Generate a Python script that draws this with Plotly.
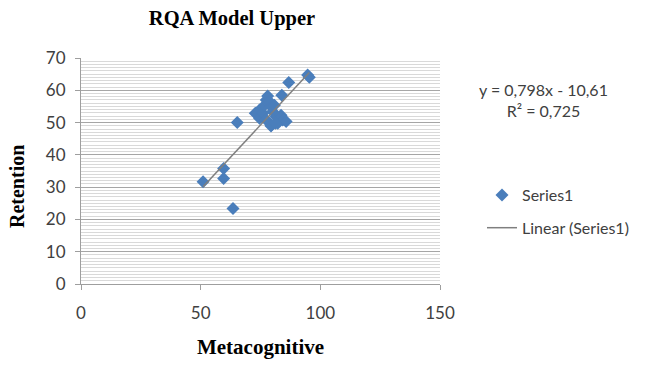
import plotly.graph_objects as go

# Data (Metacognitive vs Retention)
metacognitive = [51.0, 59.6, 59.6, 63.5, 65.3, 72.8, 73.2, 74.6, 74.6, 76.0, 76.7, 77.4, 77.4,
                 78.0, 78.75, 79.5, 79.5, 80.1, 80.8, 81.5, 82.2, 83.6, 83.6, 84.3, 85.7,
                 83.9, 86.8, 94.7, 95.4, 79.4, 81.3]
retention = [31.7, 35.8, 32.7, 23.4, 50.0, 52.9, 52.9, 53.9, 51.3, 52.9, 55.4, 57.0, 50.8,
             58.2, 56.5, 54.9, 49.2, 53.4, 55.4, 51.8, 49.8, 52.3, 51.6, 50.8, 50.3,
             58.5, 62.4, 64.7, 64.0, 48.9, 49.8]

slope = 0.798
intercept = -10.61
r_squared = 0.725

x_ticks = [0, 50, 100, 150]
y_ticks = [0, 10, 20, 30, 40, 50, 60, 70]

trend_x = [min(metacognitive), max(metacognitive)]
trend_y = [slope * v + intercept for v in trend_x]

W, H = 653, 369
PL, PR, PT, PB = 81, 440, 58, 284          # plot area in window pixels
L, T = PL, PT
R, B = W - PR, H - PB
pw, ph = PR - PL, PB - PT


def px_x(p):
    return (p - PL) / pw


def px_y(p):
    return (PB - p) / ph


SANS = "Lato, Liberation Sans, sans-serif"
SERIF = "Liberation Serif, serif"

fig = go.Figure()
fig.add_trace(go.Scatter(
    x=metacognitive, y=retention, mode="markers", name="Series1",
    marker=dict(symbol="diamond", size=10, color="#4A7EBB", line=dict(width=0)),
    legendgroup="a",
))
fig.add_trace(go.Scatter(
    x=trend_x, y=trend_y, mode="lines", name="Linear (Series1)",
    line=dict(color="#7F7F7F", width=1.5),
    legendgroup="b",
))

eq_text = (f"y = {str(slope).replace('.', ',')}x - {str(-intercept).replace('.', ',')}"
           f"<br>R² = {str(r_squared).replace('.', ',')}")
fig.add_annotation(
    text=eq_text, xref="paper", yref="paper",
    x=px_x(543), y=px_y(78), xanchor="center", yanchor="top",
    showarrow=False, align="center",
    font=dict(family=SANS, size=16, color="#404040"),
)
fig.add_annotation(
    text="<b>Retention</b>", xref="paper", yref="paper",
    x=px_x(17), y=px_y(187), xanchor="center", yanchor="middle",
    textangle=-90, showarrow=False,
    font=dict(family=SERIF, size=20, color="#000000"),
)

fig.update_layout(
    width=W, height=H,
    margin=dict(l=L, r=R, t=T, b=B, autoexpand=False),
    paper_bgcolor="white", plot_bgcolor="white",
    title=dict(text="<b>RQA Model Upper</b>", x=232 / W, xanchor="center",
               y=1 - 18 / H, yanchor="middle", automargin=False,
               font=dict(family=SERIF, size=20.5, color="#000000")),
    legend=dict(x=px_x(482), y=px_y(178),
                xanchor="left", yanchor="top", tracegroupgap=9,
                font=dict(family=SANS, size=16, color="#404040"),
                bgcolor="rgba(0,0,0,0)", itemwidth=30),
    showlegend=True,
)
fig.update_xaxes(
    range=[0, 150], tickvals=x_ticks, showgrid=False, zeroline=False, automargin=False,
    showline=True, linecolor="#9E9E9E", linewidth=1,
    ticks="outside", ticklen=5, tickcolor="#9E9E9E", ticklabelstandoff=9,
    tickfont=dict(family=SANS, size=17, color="#404040"),
    title=dict(text="<b>Metacognitive</b>", standoff=16,
               font=dict(family=SERIF, size=21, color="#000000")),
)
fig.update_yaxes(
    range=[0, 70], tickvals=y_ticks, showgrid=True, gridcolor="#A6A6A6", gridwidth=1,
    zeroline=False, showline=True, linecolor="#9E9E9E", linewidth=1, automargin=False,
    ticks="outside", ticklen=5, tickcolor="#9E9E9E", ticklabelstandoff=6,
    minor=dict(dtick=1, showgrid=True, gridcolor="#D9D9D9", gridwidth=1),
    tickfont=dict(family=SANS, size=17, color="#404040"),
)

fig.write_html("out.html", config={"displayModeBar": False},
               post_script="document.body.style.margin='0';")
